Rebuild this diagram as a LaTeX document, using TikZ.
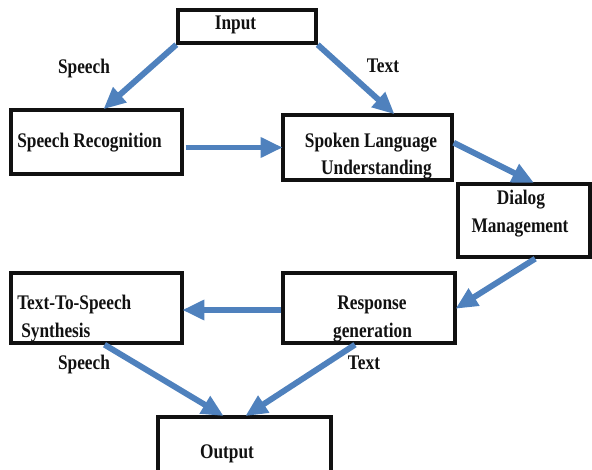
\documentclass[tikz,border=0pt]{standalone}
\usepackage{fontspec}
\setmainfont{Liberation Serif}
\usepackage{graphicx}
\usepackage{tikz}
\usetikzlibrary{arrows.meta,positioning,calc}
\usepackage{xcolor}
\definecolor{sdBlue}{HTML}{4F81BD}
\definecolor{sdInk}{HTML}{111111}
\newcommand{\tallbf}[1]{\scalebox{1}[1.2]{#1}}
\tikzset{
  blkbox/.style={draw=sdInk, fill=white, line width=2.4pt, rectangle, inner sep=0pt},
  flowarr/.style={-{Triangle[length=5.5mm,width=4.8mm]}, line width=4.2pt, draw=sdBlue, color=sdBlue, shorten >=-1pt},
  lbl/.style={anchor=base, inner sep=0pt, font=\fontsize{12.3pt}{14pt}\selectfont\bfseries, text=sdInk},
  lblw/.style={lbl, anchor=base west}
}
\begin{document}
\begin{tikzpicture}[x=1cm,y=1cm]
  \useasboundingbox (0,0) rectangle (14.8,-11.75);
  \clip (0,0) rectangle (14.8,-11.75);
  \node[blkbox, minimum width=3.45cm, minimum height=0.825cm] (inbox) at (6.175,-0.6625) {};
  \node[blkbox, minimum width=4.275cm, minimum height=1.6cm] (srbox) at (2.4125,-3.55) {};
  \node[blkbox, minimum width=4.225cm, minimum height=1.625cm] (slubox) at (9.1875,-3.6875) {};
  \node[blkbox, minimum width=3.3cm, minimum height=1.825cm] (dmbox) at (13.1,-5.5125) {};
  \node[blkbox, minimum width=4.275cm, minimum height=1.75cm] (ttsbox) at (2.4125,-7.7) {};
  \node[blkbox, minimum width=4.3cm, minimum height=1.75cm] (rgbox) at (9.225,-7.7) {};
  \node[blkbox, minimum width=4.325cm, minimum height=1.7cm] (outbox) at (6.1125,-11.275) {};
  \node[lbl] (intxt) at (5.8875,-0.75) {\tallbf{Input}};
  \node[lblw] (srtxt) at (0.425,-3.675) {\tallbf{Speech Recognition}};
  \node[lbl] (slutxta) at (9.275,-3.675) {\tallbf{Spoken Language}};
  \node[lbl] (slutxtb) at (9.4125,-4.35) {\tallbf{Understanding}};
  \node[lbl] (dmtxta) at (13.025,-5.1) {\tallbf{Dialog}};
  \node[lbl] (dmtxtb) at (13.0,-5.825) {\tallbf{Management}};
  \node[lblw] (ttstxta) at (0.425,-7.725) {\tallbf{Text-To-Speech}};
  \node[lblw] (ttstxtb) at (0.525,-8.425) {\tallbf{Synthesis}};
  \node[lbl] (rgtxta) at (9.3,-7.725) {\tallbf{Response}};
  \node[lbl] (rgtxtb) at (9.3125,-8.425) {\tallbf{generation}};
  \node[lbl] (outtxt) at (5.675,-11.45) {\tallbf{Output}};
  \node[lbl] (inspeech) at (2.1,-1.85) {\tallbf{Speech}};
  \node[lbl] (intext) at (9.575,-1.825) {\tallbf{Text}};
  \node[lbl] (outspeech) at (2.1,-9.225) {\tallbf{Speech}};
  \node[lbl] (outtext) at (9.1,-9.225) {\tallbf{Text}};
  \draw[flowarr] (inbox.south west) -- ([xshift=0.2cm]srbox.north);
  \draw[flowarr] (inbox.south east) -- ([xshift=0.65cm]slubox.north);
  \draw[flowarr] ([xshift=0.05cm]srbox.east |- slubox.west) -- (slubox.west);
  \draw[flowarr] ([yshift=0.12cm]slubox.east) -- ([xshift=0.22cm]dmbox.north);
  \draw[flowarr] ([xshift=0.28cm]dmbox.south) -- (rgbox.east);
  \draw[flowarr] ([yshift=-0.05cm]rgbox.west) -- ([yshift=-0.05cm]ttsbox.east);
  \draw[flowarr] ([xshift=0.2cm]ttsbox.south) -- ([xshift=-0.55cm]outbox.north);
  \draw[flowarr] ([xshift=-0.35cm]rgbox.south) -- ([xshift=0.05cm]outbox.north);
\end{tikzpicture}
\end{document}
